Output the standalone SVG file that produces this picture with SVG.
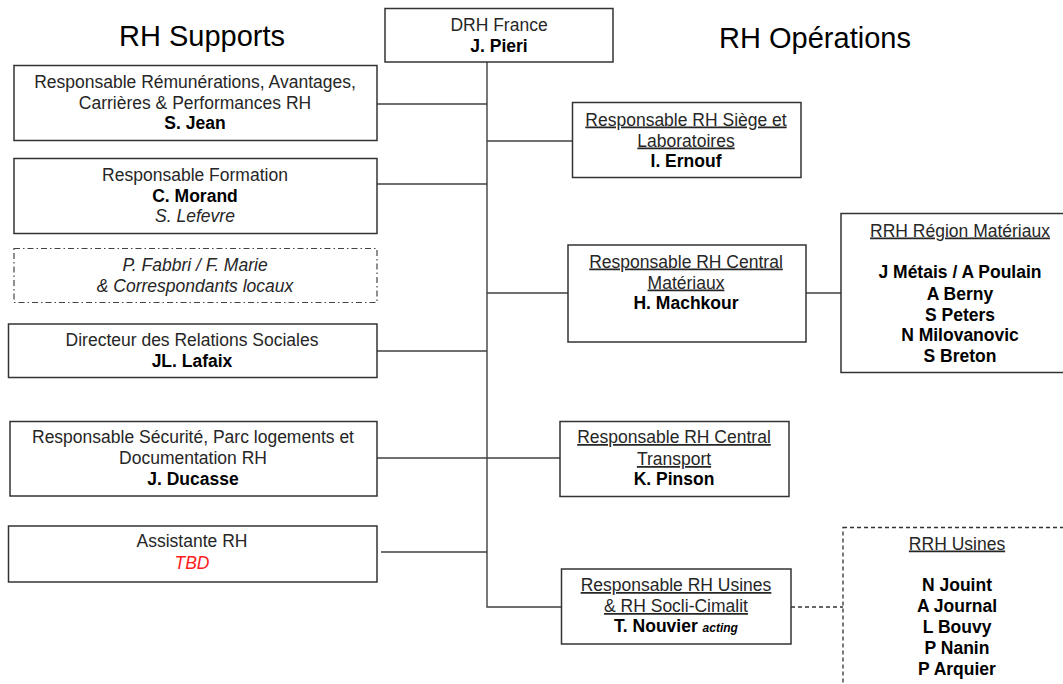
<svg xmlns="http://www.w3.org/2000/svg" width="1063" height="684" viewBox="0 0 1063 684">
<style>
text{font-family:"Liberation Sans",Arial,sans-serif;font-size:17.5px;fill:#262626;text-anchor:middle}
.b{font-weight:bold;fill:#000}
.i{font-style:italic}
.u{text-decoration:underline}
.t{font-size:29px;fill:#000}
.box{fill:#fff;stroke:#333;stroke-width:1.5}
.dd{fill:#fff;stroke:#444;stroke-width:1.2;stroke-dasharray:6 3 1.5 3}
.ds{fill:#fff;stroke:#333;stroke-width:1.3;stroke-dasharray:4 3}
.c{stroke:#404040;stroke-width:1.4;fill:none}
.cd{stroke:#333;stroke-width:1.3;fill:none;stroke-dasharray:4 3}
</style>
<rect width="1063" height="684" fill="#fff"/>
<text class="t" x="202" y="46">RH Supports</text>
<text class="t" x="815" y="48">RH Opérations</text>
<g id="connectors">
<path class="c" d="M487 62V607H562"/>
<path class="c" d="M377 104H487M377 184H487M377 351H487M376 458H560M381 552H487"/>
<path class="c" d="M487 141H572M487 293H568M806 293H841"/>
<path class="cd" d="M791 607H843"/>
</g>
<g id="drh">
<rect class="box" x="385" y="8.5" width="228" height="53.5"/>
<text x="499" y="30.5">DRH France</text>
<text class="b" x="499" y="52">J. Pieri</text>
</g>
<g id="remunerations">
<rect class="box" x="14" y="65.5" width="363" height="75"/>
<text x="195" y="88">Responsable Rémunérations, Avantages,</text>
<text x="195" y="109">Carrières &amp; Performances RH</text>
<text class="b" x="195" y="129">S. Jean</text>
</g>
<g id="formation">
<rect class="box" x="14" y="158.5" width="363" height="75"/>
<text x="195" y="181">Responsable Formation</text>
<text class="b" x="195" y="201.5">C. Morand</text>
<text class="i" x="195" y="221.5">S. Lefevre</text>
</g>
<g id="correspondants">
<rect class="dd" x="14" y="248.5" width="363" height="54"/>
<text class="i" x="195" y="270.5">P. Fabbri / F. Marie</text>
<text class="i" x="195" y="291.5">&amp; Correspondants locaux</text>
</g>
<g id="relations">
<rect class="box" x="8.5" y="324" width="368.5" height="53.5"/>
<text x="192" y="345.5">Directeur des Relations Sociales</text>
<text class="b" x="192" y="367">JL. Lafaix</text>
</g>
<g id="securite">
<rect class="box" x="10" y="421.5" width="367" height="74.5"/>
<text x="193" y="443">Responsable Sécurité, Parc logements et</text>
<text x="193" y="464">Documentation RH</text>
<text class="b" x="193" y="485">J. Ducasse</text>
</g>
<g id="assistante">
<rect class="box" x="8.5" y="526" width="368.5" height="56"/>
<text x="192" y="547">Assistante RH</text>
<text class="i" x="192" y="569" style="fill:#ff2020">TBD</text>
</g>
<g id="siege">
<rect class="box" x="572.5" y="102.5" width="228.5" height="75"/>
<text class="u" x="686" y="125.5">Responsable RH Siège et</text>
<text class="u" x="686" y="146.5">Laboratoires</text>
<text class="b" x="686" y="166.5">I. Ernouf</text>
</g>
<g id="materiaux">
<rect class="box" x="568" y="245" width="238" height="97"/>
<text class="u" x="686" y="267.5">Responsable RH Central</text>
<text class="u" x="686" y="288.5">Matériaux</text>
<text class="b" x="686" y="309">H. Machkour</text>
</g>
<g id="region-materiaux">
<rect class="box" x="841" y="213.5" width="230" height="159"/>
<text class="u" x="960" y="236.5">RRH Région Matériaux</text>
<text class="b" x="960" y="277.5">J Métais / A Poulain</text>
<text class="b" x="960" y="299.5">A Berny</text>
<text class="b" x="960" y="320.5">S Peters</text>
<text class="b" x="960" y="341">N Milovanovic</text>
<text class="b" x="960" y="361.5">S Breton</text>
</g>
<g id="transport">
<rect class="box" x="560" y="421.5" width="229" height="75"/>
<text class="u" x="674" y="443">Responsable RH Central</text>
<text class="u" x="674" y="465">Transport</text>
<text class="b" x="674" y="485">K. Pinson</text>
</g>
<g id="usines">
<rect class="box" x="561.5" y="569" width="229.5" height="75"/>
<text class="u" x="676" y="591">Responsable RH Usines</text>
<text class="u" x="676" y="612">&amp; RH Socli-Cimalit</text>
<text class="b" x="676" y="632">T. Nouvier <tspan class="i" style="font-size:12px">acting</tspan></text>
</g>
<g id="rrh-usines">
<rect class="ds" x="843" y="527.5" width="240" height="170"/>
<text class="u" x="957" y="549.5">RRH Usines</text>
<text class="b" x="957" y="590.5">N Jouint</text>
<text class="b" x="957" y="612">A  Journal</text>
<text class="b" x="957" y="633">L Bouvy</text>
<text class="b" x="957" y="654">P Nanin</text>
<text class="b" x="957" y="675">P Arquier</text>
</g>
</svg>
